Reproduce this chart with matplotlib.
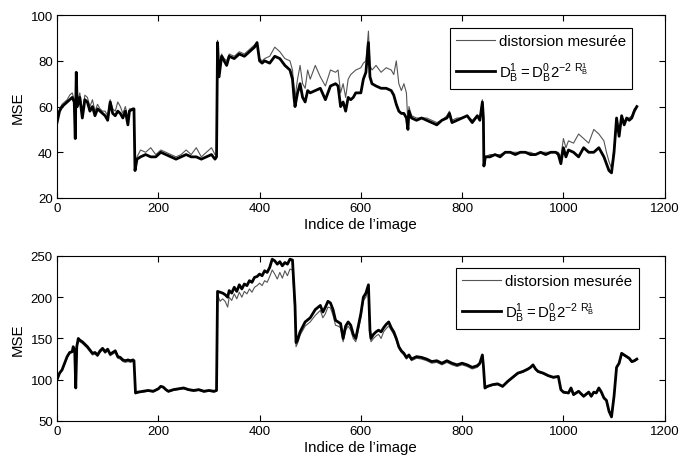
import matplotlib
matplotlib.use('Agg')
import matplotlib.pyplot as plt

plt.rcParams['font.family'] = ['Liberation Sans', 'DejaVu Sans']
plt.rcParams['mathtext.fontset'] = 'custom'
plt.rcParams['mathtext.rm'] = 'Liberation Sans'

# top panel
x_top = [0, 5, 10, 15, 20, 25, 30, 34, 36, 38,
         40, 45, 50, 55, 60, 65, 70, 75, 80, 85,
         90, 95, 100, 105, 110, 115, 120, 125, 130, 135,
         140, 143, 150, 152, 154, 158, 165, 175, 185, 195,
         205, 215, 225, 235, 245, 255, 265, 275, 285, 295,
         305, 312, 315, 317, 320, 325, 330, 335, 340, 350,
         360, 370, 380, 390, 395, 400, 405, 410, 420, 430,
         440, 450, 460, 465, 468, 470, 475, 480, 485, 490,
         495, 500, 510, 520, 530, 540, 550, 555, 560, 565,
         570, 575, 580, 585, 590, 600, 605, 610, 612, 615,
         618, 622, 630, 640, 650, 660, 665, 670, 675, 680,
         685, 690, 693, 695, 700, 710, 720, 730, 740, 750,
         760, 770, 775, 780, 790, 800, 810, 820, 830, 835,
         840, 842, 843, 846, 855, 865, 875, 885, 895, 905,
         915, 925, 935, 945, 955, 965, 975, 985, 990, 995,
         1000, 1005, 1010, 1020, 1030, 1040, 1050, 1060, 1070, 1080,
         1085, 1090, 1095, 1100, 1105, 1110, 1115, 1120, 1125, 1130,
         1135, 1140, 1145]
top_model = [53, 58, 60, 61, 62, 63, 64, 62, 46, 75,
             60, 64, 55, 63, 62, 58, 60, 56, 59, 58,
             57, 56, 54, 62, 57, 56, 58, 57, 55, 58,
             52, 58, 59, 59, 32, 37, 38, 39, 38, 38,
             40, 39, 38, 37, 38, 39, 38, 38, 37, 38,
             39, 37, 38, 88, 73, 82, 80, 78, 82, 81,
             83, 82, 84, 86, 88, 80, 79, 80, 79, 82,
             81, 78, 76, 72, 64, 60, 66, 70, 64, 62,
             67, 66, 67, 68, 63, 69, 70, 69, 60, 62,
             58, 64, 63, 64, 66, 66, 72, 75, 80, 88,
             73, 70, 69, 68, 68, 67, 65, 61, 58, 57,
             57, 55, 50, 58, 55, 54, 55, 54, 53, 52,
             54, 55, 57, 53, 54, 55, 56, 53, 56, 54,
             62, 55, 34, 38, 38, 39, 38, 40, 40, 39,
             40, 40, 39, 39, 40, 39, 40, 40, 39, 35,
             42, 38, 41, 40, 38, 42, 40, 40, 42, 38,
             35, 32, 31, 40, 55, 47, 56, 52, 55, 54,
             55, 58, 60]
top_meas = [55, 59, 61, 62, 63, 65, 66, 63, 50, 72,
            62, 66, 58, 65, 64, 60, 63, 58, 61, 59,
            58, 58, 56, 63, 59, 58, 62, 60, 57, 60,
            55, 59, 59, 59, 33, 38, 41, 40, 42, 39,
            41, 40, 39, 38, 39, 41, 39, 42, 38, 40,
            42, 39, 39, 89, 75, 83, 81, 80, 83, 82,
            84, 83, 85, 87, 88, 81, 80, 81, 82, 86,
            84, 81, 80, 76, 68, 64, 72, 78, 70, 68,
            76, 72, 78, 73, 69, 76, 75, 76, 66, 70,
            64, 72, 74, 75, 76, 77, 79, 80, 85, 93,
            78, 76, 78, 75, 77, 76, 74, 80, 70, 67,
            70, 66, 52, 60, 56, 55, 55, 55, 54, 53,
            54, 56, 58, 54, 55, 55, 56, 54, 56, 55,
            63, 56, 34, 38, 39, 39, 39, 40, 40, 40,
            40, 40, 40, 39, 40, 40, 40, 40, 40, 38,
            46, 42, 45, 44, 48, 46, 44, 50, 48, 45,
            40, 36, 33, 42, 54, 49, 56, 53, 55, 55,
            56, 59, 60]

# bottom panel
x_bot = [0, 5, 10, 15, 20, 25, 30, 32, 35, 37,
         39, 42, 45, 50, 55, 60, 65, 70, 75, 80,
         85, 90, 95, 100, 105, 110, 115, 120, 125, 130,
         135, 140, 145, 150, 152, 155, 160, 170, 180, 190,
         200, 205, 210, 215, 220, 230, 240, 250, 260, 270,
         280, 290, 300, 310, 315, 317, 322, 327, 332, 337,
         340, 345, 350, 355, 360, 365, 370, 375, 380, 385,
         390, 395, 400, 405, 410, 415, 420, 425, 430, 435,
         440, 445, 450, 455, 460, 465, 470, 472, 475, 480,
         490, 500, 510, 520, 525, 530, 535, 540, 545, 550,
         555, 560, 565, 570, 575, 580, 585, 590, 595, 600,
         605, 610, 615, 618, 620, 625, 630, 635, 640, 645,
         650, 655, 660, 665, 670, 675, 680, 685, 690, 695,
         700, 710, 720, 730, 740, 750, 760, 770, 780, 790,
         800, 810, 820, 830, 835, 840, 842, 845, 850, 860,
         870, 880, 890, 900, 910, 920, 930, 935, 940, 945,
         950, 960, 970, 980, 990, 995, 1000, 1010, 1015, 1020,
         1030, 1040, 1050, 1055, 1060, 1065, 1070, 1075, 1080, 1085,
         1090, 1095, 1100, 1105, 1110, 1115, 1120, 1125, 1130, 1135,
         1140, 1145]
bot_model = [100, 108, 112, 120, 128, 133, 134, 140, 135, 90,
             140, 150, 148, 146, 143, 140, 136, 132, 133, 130,
             135, 138, 134, 137, 131, 133, 135, 128, 127, 124,
             123, 124, 123, 124, 123, 84, 85, 86, 87, 86,
             89, 92, 91, 88, 86, 88, 89, 90, 88, 87,
             88, 86, 87, 86, 87, 207, 206, 205, 203, 200,
             208, 205, 212, 207, 215, 210, 216, 214, 220, 218,
             224, 225, 228, 226, 232, 230, 236, 246, 244, 240,
             243, 238, 242, 240, 246, 245, 190, 145, 148, 158,
             170, 175, 185, 190, 182, 188, 195, 193, 185, 172,
             170, 168, 150, 165, 170, 166, 155, 150, 165, 180,
             200, 205, 215, 160, 150, 155, 158, 160, 158, 163,
             167, 170, 163, 158, 150, 140, 135, 132, 127, 130,
             125, 128, 127, 125, 122, 123, 120, 123, 120, 118,
             120, 118, 115, 117, 120, 130, 117, 90, 92, 94,
             95, 92, 98, 103, 108, 110, 113, 115, 118, 113,
             110, 108, 105, 103, 104, 88, 85, 84, 90, 82,
             86, 80, 85, 80, 85, 84, 90, 85, 78, 75,
             62, 55, 80, 115, 120, 132, 130, 128, 126, 122,
             123, 125]
bot_meas = [99, 107, 111, 119, 127, 132, 133, 139, 134, 92,
            139, 148, 146, 144, 141, 138, 134, 130, 131, 128,
            133, 136, 132, 135, 129, 131, 133, 126, 125, 122,
            121, 122, 121, 122, 121, 83, 84, 85, 86, 85,
            88, 91, 90, 87, 85, 87, 88, 89, 87, 86,
            87, 85, 86, 85, 86, 203, 195, 198, 195, 188,
            200, 196, 204, 198, 206, 200, 207, 204, 210, 206,
            212, 214, 217, 214, 220, 218, 225, 233, 228, 222,
            230, 223, 232, 226, 234, 233, 180, 140, 144, 154,
            165, 170, 178, 184, 175, 180, 188, 187, 178, 166,
            165, 163, 146, 160, 165, 160, 150, 146, 160, 175,
            196, 200, 212, 155, 146, 150, 153, 155, 150, 158,
            162, 165, 160, 155, 148, 138, 133, 130, 125, 128,
            123, 126, 125, 123, 120, 121, 118, 121, 118, 116,
            118, 116, 113, 115, 118, 128, 115, 89, 91, 93,
            94, 91, 97, 102, 107, 109, 112, 114, 117, 112,
            109, 107, 104, 102, 103, 87, 84, 83, 89, 81,
            85, 79, 84, 79, 84, 83, 89, 84, 77, 74,
            61, 54, 79, 114, 119, 131, 129, 127, 125, 121,
            122, 124]

lbl_meas = 'distorsion mesurée'
lbl_model = r'$\mathregular{D_B^1 = D_B^0 2^{-2\ R_B^1}}$'

fig = plt.figure(figsize=(6.82, 4.56), dpi=100)
ax1 = fig.add_axes([0.0836, 0.5636, 0.891, 0.401])
ax2 = fig.add_axes([0.0836, 0.0746, 0.891, 0.362])

panels = [(ax1, x_top, top_meas, top_model, (20, 100), [20, 40, 60, 80, 100], (0.947, 0.929)),
          (ax2, x_bot, bot_meas, bot_model, (50, 250), [50, 100, 150, 200, 250], (0.957, 0.927))]

for ax, xs, meas, model, ylim, yt, anchor in panels:
    ax.plot(xs, meas, color='#555555', lw=0.8, label=lbl_meas)
    ax.plot(xs, model, color='black', lw=2.0, label=lbl_model)
    ax.set_xlim(0, 1200)
    ax.set_ylim(*ylim)
    ax.set_yticks(yt)
    ax.set_xticks([0, 200, 400, 600, 800, 1000, 1200])
    ax.tick_params(direction='in', top=True, right=True, length=4, labelsize=9.5, pad=3)
    ax.set_xlabel("Indice de l’image", fontsize=10.8, labelpad=2)
    ax.set_ylabel('MSE', fontsize=10.8, labelpad=4)
    leg = ax.legend(loc='upper right', bbox_to_anchor=anchor, fontsize=10.8,
                    handlelength=2.6, handletextpad=0.27, fancybox=False, framealpha=1,
                    borderaxespad=0, labelspacing=0.8, borderpad=0.4)
    leg.get_frame().set_edgecolor('black')
    leg.get_frame().set_linewidth(0.8)

fig.savefig('out.png', dpi=100)
